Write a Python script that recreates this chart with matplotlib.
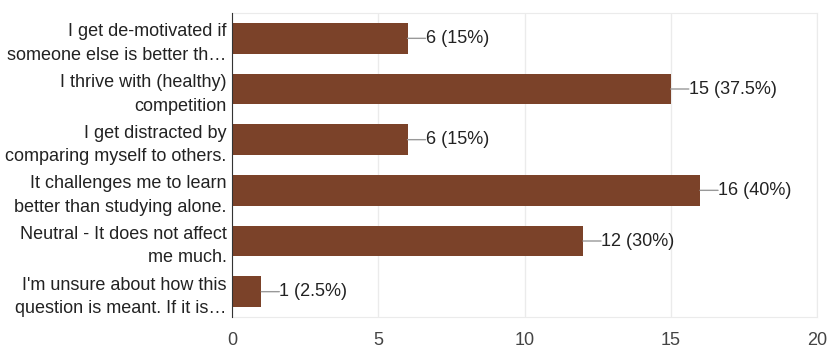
import matplotlib
matplotlib.use('Agg')
import matplotlib.pyplot as plt

labels = [
    "I get de-motivated if\nsomeone else is better th…",
    "I thrive with (healthy)\ncompetition",
    "I get distracted by\ncomparing myself to others.",
    "It challenges me to learn\nbetter than studying alone.",
    "Neutral - It does not affect\nme much.",
    "I'm unsure about how this\nquestion is meant. If it is…",
]
counts = [6, 15, 6, 16, 12, 1]
percents = ["15%", "37.5%", "15%", "40%", "30%", "2.5%"]
xticks = [0, 5, 10, 15, 20]

plt.rcParams['font.family'] = ['Liberation Sans', 'DejaVu Sans']

fig = plt.figure(figsize=(8.32, 3.53), dpi=100)
ax = fig.add_axes([232 / 832, 36 / 353, 585 / 832, 304 / 353])

ypos = list(range(len(labels)))
ax.barh(ypos, counts, height=0.61, color='#7b4229', zorder=3)

for y, c, p in zip(ypos, counts, percents):
    ax.annotate(f"{c} ({p})", xy=(c, y), xytext=(13, 0), textcoords='offset points',
                ha='left', va='center', fontsize=13, color='#222222',
                arrowprops=dict(arrowstyle='-', color='#999999', lw=1,
                                patchA=None, relpos=(0, 0.5),
                                shrinkA=0, shrinkB=0), zorder=4)

ax.set_xlim(0, 20)
ax.set_ylim(len(labels) - 0.5, -0.5)
ax.set_xticks(xticks)
ax.set_yticks(ypos)
ax.set_yticklabels(labels, fontsize=13, color='#222222', linespacing=1.5)
ax.tick_params(axis='x', length=0, labelsize=13, labelcolor='#444444', pad=11)
ax.tick_params(axis='y', length=0, pad=4)
ax.grid(axis='x', color='#ebebeb', lw=1, zorder=0)

for side in ['top', 'bottom', 'right']:
    ax.spines[side].set_color('#ebebeb')
ax.spines['left'].set_color('#333333')
ax.spines['left'].set_zorder(5)

fig.savefig('out.png', dpi=100)
